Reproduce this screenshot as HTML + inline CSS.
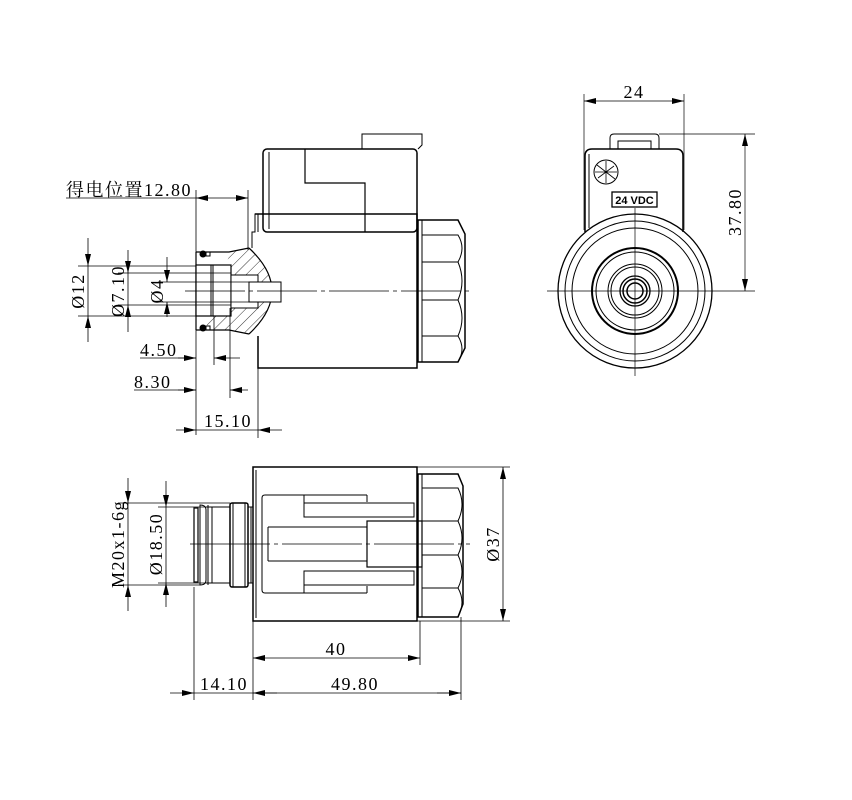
<!DOCTYPE html>
<html><head><meta charset="utf-8"><style>
html,body{margin:0;padding:0;background:#fff}
svg{display:block}
text{font-family:"Liberation Serif","Noto Serif CJK SC",serif;font-size:18px;fill:#000;letter-spacing:1.5px}
</style></head><body>
<svg width="852" height="800" viewBox="0 0 852 800" xmlns="http://www.w3.org/2000/svg">
<defs>
<pattern id="h" width="8" height="8" patternUnits="userSpaceOnUse" patternTransform="rotate(45)">
<line x1="0" y1="0" x2="0" y2="8" stroke="#000" stroke-width="0.8"/></pattern>
<marker id="a" viewBox="0 0 12 6" refX="12" refY="3" markerWidth="12" markerHeight="6" orient="auto-start-reverse" markerUnits="userSpaceOnUse"><path d="M0,0 L12,3 L0,6z" fill="#000"/></marker>
</defs>
<g fill="none" stroke="#000" stroke-width="1">
<path d="M362,149 V134 H422 V145 L418,149" />
<rect x="263" y="149" width="154" height="83" rx="4" stroke-width="1.5"/>
<path d="M305,149 V183 H365 V232" stroke-width="1.2"/>
<path d="M269,152 V229" />
<path d="M255,214 H417 V368 H258 V336" stroke-width="1.5"/>
<path d="M258,214 H255 V232 H252 V248" />
<path d="M258,232 V214" />
<path d="M418,220 H458 L465,234 V348 L458,362 H418 Z" stroke-width="1.5"/>
<path d="M422,235 H458 Q466,248 458,262 H422 M422,262 H458 Q466,281 458,300 H422 M422,300 H458 Q466,318 458,336 H422 M422,336 H458 Q466,349 458,362" />
<line x1="422" y1="220" x2="422" y2="362"/>
<path d="M231,252 L249,248 Q295,291 249,334 L231,330 H207 V275 H231 V308 H207 Z" fill="url(#h)" stroke="none"/>
<path d="M196,252 H229 L249,248" stroke-width="1.2"/>
<path d="M196,330 H229 L249,334" stroke-width="1.2"/>
<path d="M249,248 Q295,291 249,334" stroke-width="1.2"/>
<path d="M196,252 V330" stroke-width="1.2"/>
<rect x="196" y="265" width="35" height="51" fill="#fff" stroke-width="1.2"/>
<line x1="211" y1="265" x2="211" y2="316"/><line x1="213" y1="265" x2="213" y2="316"/>
<rect x="231" y="275" width="27" height="33" fill="#fff"/>
<rect x="249" y="282" width="32" height="20" fill="#fff"/>
<circle cx="203" cy="254" r="3" fill="#000"/><circle cx="203" cy="328" r="3" fill="#000"/>
<rect x="206" y="252" width="4" height="4"/><rect x="206" y="326" width="4" height="4"/>
<path d="M185,291 H470" stroke-width="0.7" stroke-dasharray="60,4,4,4"/>
<g stroke-width="0.8">
<line x1="66" y1="198" x2="196" y2="198"/>
<line x1="196" y1="190" x2="196" y2="435"/>
<line x1="248" y1="190" x2="248" y2="250"/>
<line x1="196" y1="198" x2="248" y2="198" marker-start="url(#a)" marker-end="url(#a)"/>
<line x1="78" y1="266" x2="196" y2="266"/><line x1="78" y1="316" x2="196" y2="316"/>
<line x1="88" y1="238" x2="88" y2="266" marker-end="url(#a)"/><line x1="88" y1="342" x2="88" y2="316" marker-end="url(#a)"/>
<line x1="88" y1="266" x2="88" y2="316"/>
<line x1="118" y1="273" x2="231" y2="273"/><line x1="118" y1="305" x2="231" y2="305"/>
<line x1="128" y1="250" x2="128" y2="273" marker-end="url(#a)"/><line x1="128" y1="332" x2="128" y2="305" marker-end="url(#a)"/>
<line x1="128" y1="273" x2="128" y2="305"/>
<line x1="158" y1="282" x2="249" y2="282"/><line x1="158" y1="302" x2="249" y2="302"/>
<line x1="167" y1="257" x2="167" y2="282" marker-end="url(#a)"/><line x1="167" y1="317" x2="167" y2="302" marker-end="url(#a)"/>
<line x1="214" y1="316" x2="214" y2="365"/>
<line x1="230" y1="308" x2="230" y2="398"/>
<line x1="258" y1="368" x2="258" y2="438"/>
<line x1="140" y1="358" x2="196" y2="358"/><line x1="178" y1="358" x2="196" y2="358" marker-end="url(#a)"/>
<line x1="240" y1="358" x2="214" y2="358" marker-end="url(#a)"/>
<line x1="134" y1="390" x2="196" y2="390"/><line x1="178" y1="390" x2="196" y2="390" marker-end="url(#a)"/>
<line x1="248" y1="390" x2="230" y2="390" marker-end="url(#a)"/>
<line x1="176" y1="430" x2="196" y2="430" marker-end="url(#a)"/>
<line x1="196" y1="430" x2="258" y2="430"/>
<line x1="282" y1="430" x2="258" y2="430" marker-end="url(#a)"/>
</g>
<rect x="253" y="467" width="164" height="154" stroke-width="1.5"/>
<line x1="256" y1="470" x2="256" y2="618"/>
<path d="M418,474 H458 L463,486 V604 L458,617 H418 Z" stroke-width="1.5"/>
<path d="M422,488 H458 Q466,504 458,521 H422 M422,521 H458 Q466,538 458,555 H422 M422,555 H458 Q466,572 458,588 H422 M422,588 H458 Q466,602 458,617"/>
<line x1="422" y1="474" x2="422" y2="617"/>
<path d="M367,495 H265 Q262,495 262,498 V590 Q262,593 265,593 H367"/>
<path d="M304,495 V517 H414 V503 H304 M304,593 V571 H414 V585 H304"/>
<rect x="367" y="521" width="55" height="46" stroke-width="1.2"/>
<path d="M268,527 H367 M268,561 H367 M268,527 V561"/>
<line x1="367" y1="502" x2="367" y2="495"/><line x1="367" y1="586" x2="367" y2="593"/>
<rect x="230" y="503" width="18" height="84" rx="2" stroke-width="1.5"/>
<line x1="233" y1="503" x2="233" y2="587"/><line x1="245" y1="503" x2="245" y2="587"/>
<line x1="248" y1="507" x2="253" y2="507"/><line x1="248" y1="583" x2="253" y2="583"/>
<line x1="251" y1="507" x2="251" y2="583"/>
<path d="M194,508 H198 V582 H194 Z" stroke-width="1.2"/>
<path d="M200,505 Q206,505 206,510 V580 Q206,585 200,585 Z"/>
<path d="M206,507 H230 M206,583 H230 M212,507 V583"/>
<path d="M208,505 V585" />
<path d="M190,544 H470" stroke-width="0.7" stroke-dasharray="80,4,4,4"/>
<g stroke-width="0.8">
<line x1="118" y1="503" x2="230" y2="503"/><line x1="118" y1="585" x2="200" y2="585"/>
<line x1="128" y1="478" x2="128" y2="503" marker-end="url(#a)"/><line x1="128" y1="611" x2="128" y2="585" marker-end="url(#a)"/>
<line x1="128" y1="503" x2="128" y2="585"/>
<line x1="158" y1="507" x2="206" y2="507"/><line x1="158" y1="583" x2="206" y2="583"/>
<line x1="166" y1="481" x2="166" y2="507" marker-end="url(#a)"/><line x1="166" y1="607" x2="166" y2="583" marker-end="url(#a)"/>
<line x1="166" y1="507" x2="166" y2="583"/>
<line x1="417" y1="467" x2="510" y2="467"/><line x1="417" y1="621" x2="510" y2="621"/>
<line x1="503" y1="467" x2="503" y2="621" marker-start="url(#a)" marker-end="url(#a)"/>
<line x1="253" y1="621" x2="253" y2="700"/><line x1="420" y1="621" x2="420" y2="665"/>
<line x1="194" y1="587" x2="194" y2="700"/><line x1="461" y1="617" x2="461" y2="700"/>
<line x1="253" y1="658" x2="420" y2="658" marker-start="url(#a)" marker-end="url(#a)"/>
<line x1="170" y1="693" x2="194" y2="693" marker-end="url(#a)"/>
<line x1="194" y1="693" x2="461" y2="693"/>
<line x1="253" y1="693" x2="277" y2="693" marker-start="url(#a)"/>
<line x1="437" y1="693" x2="461" y2="693" marker-end="url(#a)"/>
</g>
<path d="M610,149 V138 Q610,134 614,134 H655 Q659,134 659,138 V149"/>
<rect x="618" y="141" width="33" height="8"/>
<path d="M585,232 V156 Q585,149 592,149 H676 Q683,149 683,156 V232" stroke-width="1.5"/>
<line x1="589" y1="154" x2="589" y2="228"/>
<circle cx="606" cy="172" r="12"/>
<g stroke-width="0.8"><path d="M597,165 L615,179 M598,178 L614,166 M606,161 V183 M595,172 H617"/></g>
<rect x="612" y="192" width="45" height="15" stroke-width="1.3"/>
<circle cx="635" cy="291" r="77" stroke-width="1.3"/>
<circle cx="635" cy="291" r="70"/>
<circle cx="635" cy="291" r="63"/>
<circle cx="635" cy="291" r="43" stroke-width="2"/>
<circle cx="635" cy="291" r="39"/>
<circle cx="635" cy="291" r="27"/>
<circle cx="635" cy="291" r="24"/>
<circle cx="635" cy="291" r="15" stroke-width="1.3"/>
<circle cx="635" cy="291" r="12" stroke-width="1.5"/>
<circle cx="635" cy="291" r="8" stroke-width="1.5"/>
<g stroke-width="0.7">
<line x1="547" y1="291" x2="755" y2="291"/>
<line x1="635" y1="208" x2="635" y2="376"/>
<line x1="584" y1="94" x2="584" y2="230"/><line x1="684" y1="94" x2="684" y2="230"/>
<line x1="584" y1="101" x2="684" y2="101" marker-start="url(#a)" marker-end="url(#a)"/>
<line x1="659" y1="134" x2="755" y2="134"/>
<line x1="745" y1="134" x2="745" y2="291" marker-start="url(#a)" marker-end="url(#a)"/>
</g>
</g>
<text x="66" y="196">得电位置12.80</text>
<text x="140" y="356">4.50</text>
<text x="134" y="388">8.30</text>
<text x="204" y="427">15.10</text>
<text transform="translate(84,291) rotate(-90)" text-anchor="middle">Ø12</text>
<text transform="translate(124,291) rotate(-90)" text-anchor="middle">Ø7.10</text>
<text transform="translate(163,291) rotate(-90)" text-anchor="middle">Ø4</text>
<text transform="translate(124,544) rotate(-90)" text-anchor="middle">M20x1-6g</text>
<text transform="translate(162,544) rotate(-90)" text-anchor="middle">Ø18.50</text>
<text transform="translate(499,544) rotate(-90)" text-anchor="middle">Ø37</text>
<text x="336" y="655" text-anchor="middle">40</text>
<text x="224" y="690" text-anchor="middle">14.10</text>
<text x="355" y="690" text-anchor="middle">49.80</text>
<text x="634" y="98" text-anchor="middle">24</text>
<text transform="translate(741,212) rotate(-90)" text-anchor="middle">37.80</text>
<text x="634.5" y="204" text-anchor="middle" style="font-family:'Liberation Sans',sans-serif;font-size:11px;font-weight:bold;letter-spacing:0">24 VDC</text>
</svg>
</body></html>
